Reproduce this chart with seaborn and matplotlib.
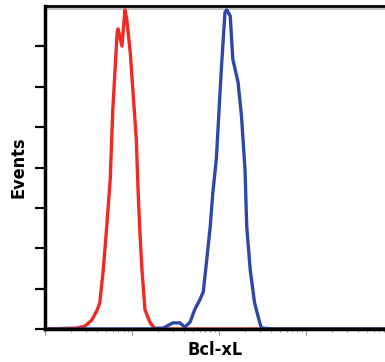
import numpy as np
import pandas as pd
import matplotlib
matplotlib.use('Agg')
import matplotlib.pyplot as plt
import seaborn as sns

# Гистограммы проточной цитометрии
# x - log10 интенсивности, y - % от максимума
red_log = [0.0, 0.37, 0.46, 0.54, 0.60, 0.63, 0.67, 0.71, 0.75, 0.78, 0.83, 0.84,
           0.885, 0.92, 0.94, 0.98, 1.01, 1.05, 1.07, 1.09, 1.115, 1.15, 1.21,
           1.26, 1.38, 3.95]
red_count = [0.0, 0.3, 0.9, 2.8, 5.9, 8.1, 18.3, 31.7, 46.3, 68.0, 91.9, 92.9,
             87.6, 98.8, 96.0, 85.7, 74.2, 58.7, 43.2, 30.7, 18.3, 5.9, 1.9,
             0.3, 0.0, 0.0]

blue_log = [0.0, 1.21, 1.36, 1.47, 1.55, 1.61, 1.67, 1.72, 1.78, 1.82, 1.86, 1.90,
            1.93, 1.97, 2.03, 2.07, 2.09, 2.13, 2.16, 2.22, 2.26, 2.30, 2.32,
            2.36, 2.41, 2.47, 2.49, 2.64, 3.95]
blue_count = [0.0, 0.0, 0.3, 1.9, 1.9, 0.6, 2.2, 5.9, 9.0, 11.5, 21.4, 31.7,
              42.2, 52.5, 81.4, 98.1, 98.8, 96.9, 83.5, 76.4, 65.8, 49.4, 31.7,
              18.3, 8.1, 1.9, 0.3, 0.0, 0.0]

series_names = ['control', 'Bcl-xL']
series_colors = ['#ee2a22', '#2f47a6']

df = pd.concat([
    pd.DataFrame({'intensity': 10 ** np.array(red_log), 'events': red_count,
                  'sample': series_names[0]}),
    pd.DataFrame({'intensity': 10 ** np.array(blue_log), 'events': blue_count,
                  'sample': series_names[1]}),
])

sns.set_style('ticks', {'axes.edgecolor': 'black', 'text.color': 'black',
                        'axes.labelcolor': 'black'})
plt.rcParams['font.family'] = ['DejaVu Sans']

fig = plt.figure(figsize=(3.85, 3.62), dpi=100)
ax = fig.add_axes([45 / 385, 33 / 362, 1 - 45 / 385, 323 / 362])

ax.axhline(99, color='#b5b5b5', lw=1.2, zorder=1)
sns.lineplot(data=df, x='intensity', y='events', hue='sample',
             palette=series_colors, estimator=None, sort=True,
             linewidth=2.4, legend=False, ax=ax)

ax.set_xscale('log')
ax.set_xlim(1, 10 ** 3.91)
ax.set_ylim(0, 100)

ax.set_yticks(np.arange(0, 100, 12.5))
ax.set_yticklabels([])
ax.tick_params(axis='y', length=7, width=1.6, direction='out', color='black')
ax.tick_params(axis='x', which='major', length=4, width=0.8, color='#999999',
               labelbottom=False)
ax.tick_params(axis='x', which='minor', length=2.5, width=0.8, color='#999999')

for s in ['left', 'bottom']:
    ax.spines[s].set_linewidth(2.5)
ax.spines['top'].set_linewidth(2.0)
ax.spines['right'].set_visible(False)

ax.set_xlabel('Bcl-xL', fontsize=13, fontweight='bold', fontstretch='condensed',
              labelpad=3)
ax.set_ylabel('Events', fontsize=13, fontweight='bold', fontstretch='condensed',
              labelpad=2)

plt.savefig('out.png', dpi=100)
plt.close()
